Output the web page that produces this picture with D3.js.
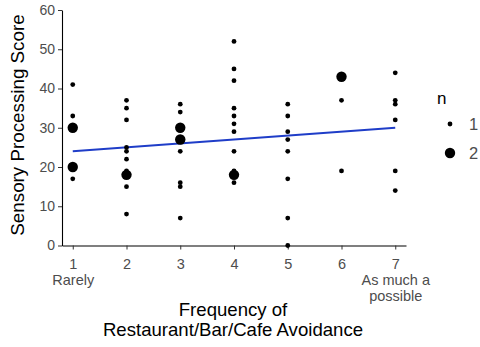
<!DOCTYPE html>
<html>
<head>
<meta charset="utf-8">
<script src="https://cdn.jsdelivr.net/npm/d3@7"></script>
<style>
  html, body { margin: 0; padding: 0; background: #fff; }
  svg { display: block; font-family: "Liberation Sans", Arial, sans-serif; }
</style>
</head>
<body>
<svg id="chart" width="480" height="347"></svg>
<script>
// ---- data ----
const frequency = [1,1,1,1,1,
  2,2,2,2,2,2,2,2,2,2,
  3,3,3,3,3,3,3,3,
  4,4,4,4,4,4,4,4,4,4,4,
  5,5,5,5,5,5,5,5,
  6,6,6,
  7,7,7,7,7,7];
const score = [41,33,30,20,17,
  37,35,32,25,24,22,19,18,15,8,
  36,34,30,27,24,16,15,7,
  52,45,42,35,33,31,29,24,19,18,16,
  36,33,29,27,24,17,7,0,
  43,37,19,
  44,37,36,32,19,14];
const count = [1,1,2,2,1,
  1,1,1,1,1,1,1,2,1,1,
  1,1,2,2,1,1,1,1,
  1,1,1,1,1,1,1,1,1,2,1,
  1,1,1,1,1,1,1,1,
  2,1,1,
  1,1,1,1,1,1];
const fitX = [1, 7];
const fitY = [24, 30];
const xTicks = [1,2,3,4,5,6,7];
const xTickLabels = [["1","Rarely"],["2"],["3"],["4"],["5"],["6"],["7","As much a","possible"]];
const yTicks = [0,10,20,30,40,50,60];
const legendValues = [1, 2];

// ---- scales ----
const svg = d3.select("#chart");
const x = d3.scaleLinear().domain([0.8, 7.2]).range([62, 406]);
const y = d3.scaleLinear().domain([0, 60]).range([245.5, 10]);
const r = d3.scaleOrdinal().domain([1, 2]).range([2.4, 5.2]);
const tickColor = "#4d4d4d";

// ---- axes ----
const yAxis = svg.append("g").attr("transform", "translate(62,0)")
  .call(d3.axisLeft(y).tickValues(yTicks).tickSize(4).tickPadding(3).tickSizeOuter(0));
yAxis.select(".domain").attr("stroke", "#000").attr("stroke-width", 1.1);
yAxis.selectAll(".tick line").attr("stroke", "#333");
yAxis.selectAll(".tick text").attr("fill", tickColor).style("font-size", "14px");

const xAxis = svg.append("g").attr("transform", "translate(0,245.5)")
  .call(d3.axisBottom(x).tickValues(xTicks).tickSize(4).tickSizeOuter(0).tickFormat(() => ""));
xAxis.select(".domain").attr("stroke", "#000").attr("stroke-width", 1.1);
xAxis.selectAll(".tick line").attr("stroke", "#333");
xAxis.selectAll(".tick").each(function(d, i) {
  const t = d3.select(this).select("text")
    .attr("fill", tickColor).style("font-size", "14.5px")
    .attr("y", 0).attr("dy", null);
  t.text(null);
  xTickLabels[i].forEach((line, j) => {
    t.append("tspan").attr("x", 0).attr("y", 23 + j * 16).text(line);
  });
});

// ---- fit line ----
svg.append("path")
  .datum(fitX.map((v, i) => [v, fitY[i]]))
  .attr("fill", "none").attr("stroke", "#1f3dc8").attr("stroke-width", 2)
  .attr("d", d3.line().x(d => x(d[0])).y(d => y(d[1])));

// ---- points ----
const pts = frequency.map((f, i) => ({ f, s: score[i], n: count[i] }));
svg.append("g").selectAll("circle").data(pts).join("circle")
  .attr("cx", d => x(d.f)).attr("cy", d => y(d.s))
  .attr("r", d => r(d.n)).attr("fill", "#000");

// ---- axis titles ----
svg.append("text").attr("text-anchor", "middle")
  .attr("transform", "translate(24,125) rotate(-90)")
  .style("font-size", "18.8px").attr("fill", "#000")
  .text("Sensory Processing Score");
const xt = svg.append("text").attr("text-anchor", "middle").style("font-size", "18.6px").attr("fill", "#000");
xt.append("tspan").attr("x", 233).attr("y", 316).text("Frequency of");
xt.append("tspan").attr("x", 233).attr("y", 336).text("Restaurant/Bar/Cafe Avoidance");

// ---- legend ----
const lg = svg.append("g");
lg.append("text").attr("x", 437).attr("y", 104).style("font-size", "17px").attr("fill", "#000").text("n");
legendValues.forEach((v, i) => {
  const cy = 124 + i * 29;
  lg.append("circle").attr("cx", 450).attr("cy", cy).attr("r", r(v)).attr("fill", "#000");
  lg.append("text").attr("x", 469).attr("y", cy + 6).style("font-size", "16.5px").attr("fill", tickColor).text(v);
});
</script>
</body>
</html>
